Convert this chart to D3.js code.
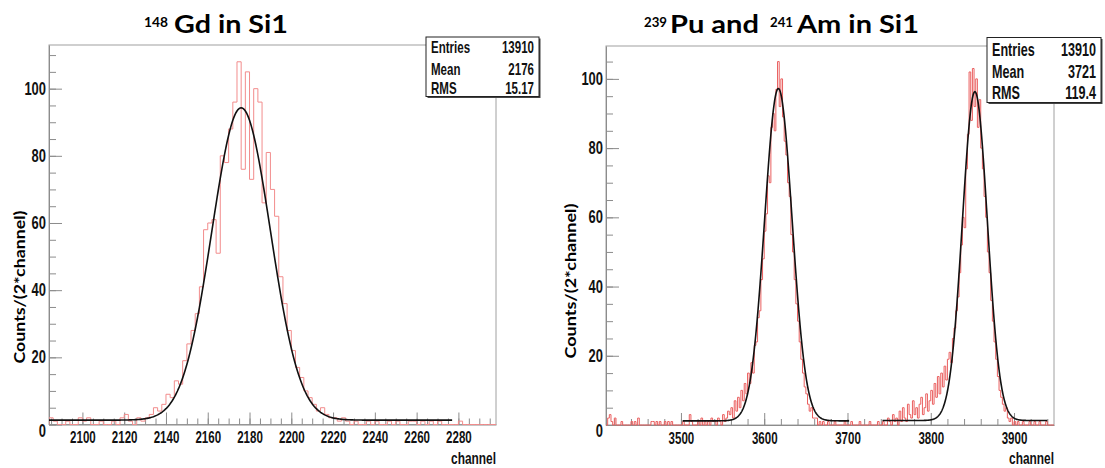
<!DOCTYPE html>
<html>
<head>
<meta charset="utf-8">
<script src="https://cdn.jsdelivr.net/npm/d3@7"></script>
<style>
body { margin: 0; background: #fff; }
svg { display: block; }
.axis .tick text { font-family: "Liberation Sans", Arial, sans-serif; font-weight: bold; fill: #111; }
.axis path, .axis line { stroke: #8c8c8c; }
.stats text { font-family: "Liberation Sans", Arial, sans-serif; font-weight: bold; fill: #111; }
.xtitle { font-family: "Liberation Sans", Arial, sans-serif; font-weight: bold; font-size: 17px; fill: #111; }
.ytitle, .title { font-family: Lato, "Open Sans", sans-serif; font-weight: bold; fill: #000; }
</style>
</head>
<body>
<svg id="chart" width="1105" height="468"></svg>
<script>
// --- data (counts per 2-channel bin) ---
const binWidth = 2;

const gdStart = 2084;
const gdCounts = [
    2, 1, 0, 0, 1, 0, 0, 2, 1, 2,
    0, 0, 1, 0, 0, 1, 0, 2, 3, 1,
    0, 2, 1, 2, 3, 5, 4, 6, 9, 8,
    13, 12, 19, 24, 28, 33, 41, 58, 60, 61,
    51, 80, 78, 88, 96, 108, 76, 105, 73, 100,
    96, 66, 81, 70, 62, 44, 36, 28, 22, 17,
    14, 10, 8, 6, 4, 5, 3, 2, 2, 1,
    2, 1, 0, 1, 0, 0, 1, 0, 1, 0,
    0, 1, 0, 1, 0, 0, 1, 1, 0, 1,
    0, 1, 0, 1, 0, 0, 0, 0, 1, 0,
    0, 0, 0, 0, 0, 0, 0
];

const puAmStart = 3410;
// 3410 .. 3538
const lowCounts = [
    0, 2, 3, 1, 0, 2, 0, 0, 0, 1,
    0, 0, 0, 0, 0, 1, 0, 1, 0, 2,
    0, 0, 0, 0, 0, 0, 0, 1, 1, 0,
    1, 0, 1, 0, 0, 1, 0, 1, 0, 1,
    0, 0, 0, 0, 0, 0, 1, 0, 0, 0,
    3, 1, 0, 0, 0, 1, 0, 2, 0, 1,
    0, 1, 0, 2, 1
];
// 3540 .. 3700
const puCounts = [
    1, 0, 2, 1, 0, 3, 1, 2, 4, 3,
    5, 2, 7, 4, 8, 5, 10, 7, 12, 9,
    15, 12, 18, 15, 23, 24, 31, 33, 42, 48,
    56, 61, 72, 70, 86, 90, 85, 97, 105, 92,
    100, 89, 82, 78, 70, 66, 55, 50, 42, 35,
    30, 24, 19, 15, 11, 9, 6, 4, 5, 2,
    2, 2, 0, 1, 0, 1, 0, 0, 1, 0,
    0, 0, 1, 0, 0, 0, 0, 0, 1, 0,
    0
];
// 3702 .. 3946
const amCounts = [
    0, 1, 0, 0, 0, 0, 1, 0, 0, 0,
    0, 0, 1, 0, 0, 0, 0, 1, 0, 0,
    1, 0, 0, 2, 1, 0, 3, 1, 2, 0,
    4, 1, 5, 2, 1, 6, 3, 2, 7, 3,
    5, 2, 6, 8, 3, 5, 9, 4, 7, 10,
    6, 12, 8, 14, 9, 15, 11, 17, 13, 19,
    21, 18, 25, 28, 33, 37, 44, 52, 60, 57,
    74, 84, 102, 88, 103, 92, 100, 86, 94, 80,
    74, 66, 60, 50, 44, 36, 30, 24, 19, 14,
    10, 8, 6, 4, 5, 2, 1, 2, 0, 1,
    0, 1, 0, 0, 1, 0, 0, 0, 1, 0,
    0, 1, 0, 0, 1, 0, 0, 0, 1, 0,
    0, 0, 0
];
const puAmCounts = lowCounts.concat(puCounts, amCounts);

// gaussian fits: [constant, mean, sigma, flat background], plus drawn range
const gdFit = [93, 2176, 14, 1.3];
const gdFitRange = [2084, 2277];
const puFit = [96, 3617, 16.5, 1.2];
const puFitRange = [3502, 3702];
const amFit = [95, 3853, 15, 1.3];
const amFitRange = [3742, 3940];

const gdTicks = [2100, 2120, 2140, 2160, 2180, 2200, 2220, 2240, 2260, 2280];
const puAmTicks = [3500, 3600, 3700, 3800, 3900];
const countTicks = [0, 20, 40, 60, 80, 100];

const gdStats = [["Entries", "13910"], ["Mean", "2176"], ["RMS", "15.17"]];
const puAmStats = [["Entries", "13910"], ["Mean", "3721"], ["RMS", "119.4"]];

const svg = d3.select("#chart");

const panels = [
    {
        id: "gd", start: gdStart, counts: gdCounts,
        box: {l: 49, r: 496, t: 45, b: 424.5},
        xDomain: [2084, 2298], yMax: 113,
        ticks: gdTicks, minorStep: 5,
        fits: [[gdFit, gdFitRange]],
        histColor: "#f28c8c",
        stats: gdStats, statBox: {x: 426, y: 37, w: 113, h: 59.5, size: 16, rows: [53, 74.5, 93.5], pad: 5},
        ytitle: {x: 19, y: 287, len: 153},
        title: [
            {t: "148", x: 144, y: 27, size: 14, len: 24},
            {t: "Gd in Si1", x: 174, y: 32.5, size: 25, len: 114}
        ]
    },
    {
        id: "puam", start: puAmStart, counts: puAmCounts,
        box: {l: 606, r: 1054, t: 46, b: 425},
        xDomain: [3410, 3948], yMax: 109.5,
        ticks: puAmTicks, minorStep: 20,
        fits: [[puFit, puFitRange], [amFit, amFitRange]],
        histColor: "#ea5f5f",
        stats: puAmStats, statBox: {x: 987, y: 37.5, w: 114, h: 65, size: 17.5, rows: [55.5, 78, 99], pad: 5},
        ytitle: {x: 570, y: 281, len: 155},
        title: [
            {t: "239", x: 644, y: 27, size: 14, len: 23},
            {t: "Pu and", x: 670, y: 32.5, size: 25, len: 89},
            {t: "241", x: 770, y: 27, size: 14, len: 23},
            {t: "Am in Si1", x: 797, y: 32.5, size: 25, len: 122}
        ]
    }
];

function gauss(p, c) {
    return p[3] + p[0] * Math.exp(-((c - p[1]) ** 2) / (2 * p[2] * p[2]));
}

// the ROOT picture was squeezed sideways, so its labels are narrow
const squeezeX = 0.68;
const squeezeY = 0.74;
const squeezeStats = 0.72;

panels.forEach(p => {
    const g = svg.append("g").attr("class", p.id);
    const b = p.box;

    const x = d3.scaleLinear().domain(p.xDomain).range([b.l, b.r]);
    const y = d3.scaleLinear().domain([0, p.yMax]).range([b.b, b.t]);

    g.append("clipPath").attr("id", "clip-" + p.id)
        .append("rect")
        .attr("x", b.l).attr("y", b.t - 1)
        .attr("width", b.r - b.l).attr("height", b.b - b.t + 2);

    // frame
    g.append("rect")
        .attr("x", b.l).attr("y", b.t)
        .attr("width", b.r - b.l).attr("height", b.b - b.t)
        .attr("fill", "none").attr("stroke", "#a0a0a0");

    // minor ticks
    const xMinor = d3.range(Math.ceil(p.xDomain[0] / p.minorStep) * p.minorStep, p.xDomain[1], p.minorStep);
    g.append("g").attr("class", "axis")
        .attr("transform", `translate(0,${b.b})`)
        .call(d3.axisBottom(x).tickValues(xMinor).tickSize(-6).tickFormat(""))
        .call(a => a.select(".domain").remove());
    g.append("g").attr("class", "axis")
        .attr("transform", `translate(${b.l},0)`)
        .call(d3.axisLeft(y).tickValues(d3.range(0, p.yMax, 5)).tickSize(-7).tickFormat(""))
        .call(a => a.select(".domain").remove());

    // major axes
    const xa = g.append("g").attr("class", "axis")
        .attr("transform", `translate(0,${b.b})`)
        .call(d3.axisBottom(x).tickValues(p.ticks).tickFormat(d3.format("d"))
            .tickSize(-12).tickSizeOuter(0).tickPadding(6.5));
    const ya = g.append("g").attr("class", "axis")
        .attr("transform", `translate(${b.l},0)`)
        .call(d3.axisLeft(y).tickValues(countTicks).tickFormat(d3.format("d"))
            .tickSize(-13).tickSizeOuter(0).tickPadding(3));
    xa.selectAll(".tick text")
        .attr("font-size", 17)
        .attr("transform", `scale(${squeezeX},1)`);
    ya.selectAll(".tick text")
        .attr("font-size", 17.5)
        .attr("x", -3 / squeezeY)
        .attr("transform", `scale(${squeezeY},1)`);
    ya.selectAll(".tick text").filter(d => d === 0).attr("dy", "0.68em");

    // histogram outline
    const steps = [[p.start, 0]]
        .concat(p.counts.map((c, i) => [p.start + i * binWidth, c]))
        .concat([[p.start + p.counts.length * binWidth, 0]]);
    g.append("path")
        .attr("clip-path", `url(#clip-${p.id})`)
        .attr("d", d3.line().x(d => x(d[0])).y(d => y(d[1])).curve(d3.curveStepAfter)(steps))
        .attr("fill", "none")
        .attr("stroke", p.histColor)
        .attr("stroke-width", 1);

    // fits
    p.fits.forEach(([par, range]) => {
        const pts = d3.range(range[0], range[1] + 0.01, 0.5).map(c => [c, gauss(par, c)]);
        g.append("path")
            .attr("d", d3.line().x(d => x(d[0])).y(d => y(d[1]))(pts))
            .attr("fill", "none")
            .attr("stroke", "#111")
            .attr("stroke-width", 1.6);
    });

    // axis titles
    g.append("text").attr("class", "xtitle")
        .attr("transform", `translate(${b.r},464) scale(0.7,1)`)
        .attr("text-anchor", "end")
        .text("channel");
    g.append("text").attr("class", "ytitle")
        .attr("transform", `translate(${p.ytitle.x},${p.ytitle.y}) rotate(-90)`)
        .attr("text-anchor", "middle")
        .attr("dy", "0.35em")
        .attr("font-size", 16)
        .attr("textLength", p.ytitle.len)
        .attr("lengthAdjust", "spacingAndGlyphs")
        .text("Counts/(2*channel)");

    // stats box
    const s = p.statBox;
    const st = g.append("g").attr("class", "stats");
    st.append("rect")
        .attr("x", s.x + 1.5).attr("y", s.y + 1.5)
        .attr("width", s.w).attr("height", s.h)
        .attr("fill", "#444");
    st.append("rect")
        .attr("x", s.x).attr("y", s.y)
        .attr("width", s.w).attr("height", s.h)
        .attr("fill", "#fff").attr("stroke", "#222");
    p.stats.forEach((row, i) => {
        st.append("text")
            .attr("transform", `translate(${s.x + s.pad},${s.rows[i]}) scale(${squeezeStats},1)`)
            .attr("font-size", s.size).text(row[0]);
        st.append("text")
            .attr("transform", `translate(${s.x + s.w - s.pad},${s.rows[i]}) scale(${squeezeStats},1)`)
            .attr("font-size", s.size).attr("text-anchor", "end").text(row[1]);
    });

    // title
    p.title.forEach(t => {
        g.append("text").attr("class", "title")
            .attr("x", t.x).attr("y", t.y)
            .attr("font-size", t.size)
            .attr("textLength", t.len)
            .attr("lengthAdjust", "spacingAndGlyphs")
            .text(t.t);
    });
});
</script>
</body>
</html>
